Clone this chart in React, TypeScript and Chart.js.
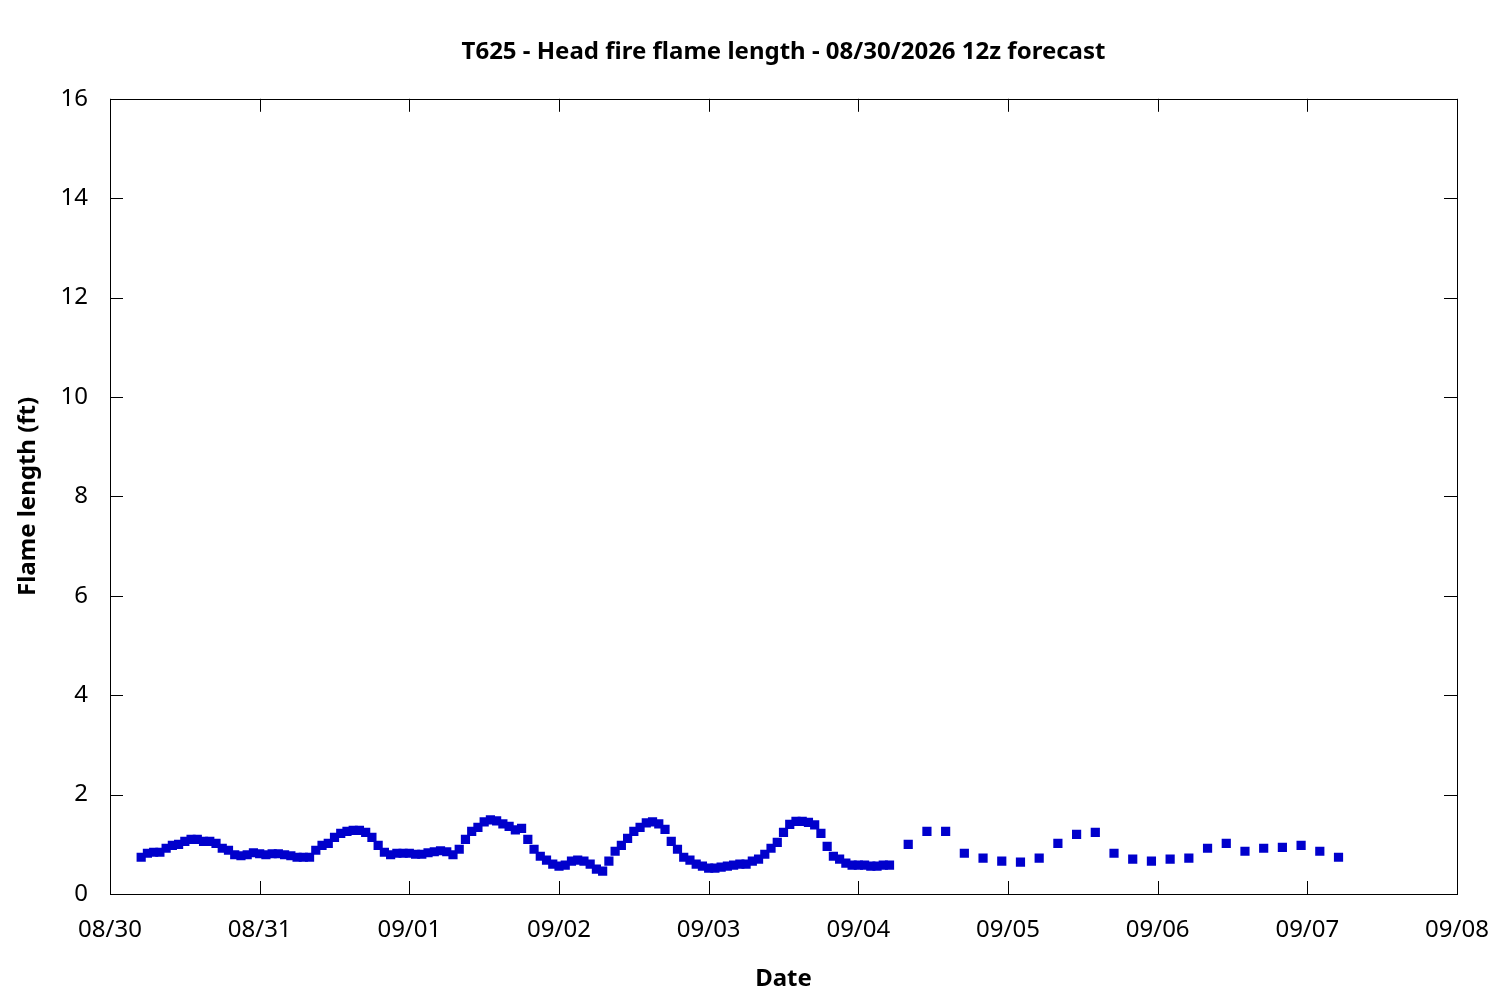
import { useEffect, useRef } from "react";
import { Chart, registerables } from "chart.js";

Chart.register(...registerables);

// Day tick labels, one per 24 h starting 08/30 00z
const dateLabels = ["08/30", "08/31", "09/01", "09/02", "09/03", "09/04", "09/05", "09/06", "09/07", "09/08"];
const yTicks = [0, 2, 4, 6, 8, 10, 12, 14, 16];

// Hourly forecast, 08/30 05z .. 09/04 05z (hours since 08/30 00z)
const hourlyStartHour = 5;
const hourlyFlameLength = [
  0.74, 0.82, 0.84, 0.84, 0.92, 0.98, 1.0, 1.06, 1.1, 1.1, 1.06, 1.06, 1.02, 0.92, 0.88, 0.79, 0.77, 0.79, 0.83,
  0.81, 0.79, 0.81, 0.81, 0.79, 0.77, 0.74, 0.74, 0.74, 0.88, 0.98, 1.02, 1.14, 1.22, 1.26, 1.28, 1.28, 1.24, 1.14,
  0.98, 0.84, 0.79, 0.82, 0.82, 0.82, 0.8, 0.8, 0.83, 0.85, 0.87, 0.85, 0.79, 0.9, 1.1, 1.26, 1.34, 1.45, 1.49,
  1.47, 1.41, 1.36, 1.29, 1.32, 1.1, 0.9, 0.76, 0.68, 0.6, 0.56, 0.58, 0.66, 0.68, 0.66, 0.6, 0.5, 0.46, 0.66,
  0.86, 0.98, 1.12, 1.26, 1.34, 1.43, 1.45, 1.41, 1.3, 1.06, 0.9, 0.74, 0.68, 0.6, 0.56, 0.52, 0.52, 0.54, 0.56,
  0.58, 0.6, 0.6, 0.66, 0.7, 0.8, 0.92, 1.04, 1.24, 1.4, 1.46, 1.46, 1.44, 1.39, 1.22, 0.96, 0.76, 0.7, 0.62,
  0.58, 0.58, 0.58, 0.56, 0.56, 0.58, 0.58,
];

// 3-hourly forecast, 09/04 08z .. 09/07 05z
const threeHourlyStartHour = 128;
const threeHourlyFlameLength = [
  1.0, 1.26, 1.26, 0.82, 0.72, 0.66, 0.64, 0.72, 1.02, 1.2, 1.24, 0.82, 0.7, 0.66, 0.7, 0.72, 0.92, 1.02, 0.86,
  0.92, 0.94, 0.98, 0.86, 0.74,
];

const FONT = "'Noto Sans', 'Open Sans', sans-serif";
const FONT_SIZE = 24;

// gnuplot-style frame with inward ticks on all four sides
const framePlugin = {
  id: "frame",
  afterDatasetsDraw(chart: any) {
    const { ctx, chartArea, scales } = chart;
    const { left, right, top, bottom } = chartArea;
    const tick = 13;
    ctx.save();
    ctx.strokeStyle = "#000";
    ctx.lineWidth = 1;
    ctx.beginPath();
    scales.x.ticks.forEach((t: any) => {
      const px = Math.round(scales.x.getPixelForValue(t.value)) + 0.5;
      ctx.moveTo(px, bottom);
      ctx.lineTo(px, bottom - tick);
      ctx.moveTo(px, top);
      ctx.lineTo(px, top + tick);
    });
    scales.y.ticks.forEach((t: any) => {
      const py = Math.round(scales.y.getPixelForValue(t.value)) + 0.5;
      ctx.moveTo(left, py);
      ctx.lineTo(left + tick, py);
      ctx.moveTo(right, py);
      ctx.lineTo(right - tick, py);
    });
    ctx.stroke();
    ctx.strokeRect(Math.round(left) + 0.5, Math.round(top) + 0.5, Math.round(right - left), Math.round(bottom - top));
    ctx.restore();
  },
};

export default function App() {
  const canvasRef = useRef<HTMLCanvasElement>(null);
  const chartInstance = useRef<Chart | null>(null);

  useEffect(() => {
    if (!canvasRef.current) return;
    if (chartInstance.current) chartInstance.current.destroy();

    const points = [
      ...hourlyFlameLength.map((v, i) => ({ x: hourlyStartHour + i, y: v })),
      ...threeHourlyFlameLength.map((v, i) => ({ x: threeHourlyStartHour + i * 3, y: v })),
    ];

    chartInstance.current = new Chart(canvasRef.current, {
      type: "scatter",
      data: {
        datasets: [
          {
            label: "Flame length",
            data: points,
            pointStyle: "rect",
            pointRadius: 6.5,
            pointBorderWidth: 0,
            backgroundColor: "#0000cc",
            borderColor: "#0000cc",
          },
        ],
      },
      plugins: [framePlugin],
      options: {
        animation: false,
        responsive: true,
        maintainAspectRatio: false,
        devicePixelRatio: 1,
        layout: { padding: { left: 0, right: 43, top: 0, bottom: 0 } },
        plugins: {
          legend: { display: false },
          tooltip: { enabled: false },
          title: {
            display: true,
            fullSize: false,
            text: "T625 - Head fire flame length - 08/30/2026 12z forecast",
            color: "#000",
            font: { family: FONT, size: FONT_SIZE, weight: "bold" },
            padding: { top: 38, bottom: 32 },
          },
        },
        scales: {
          x: {
            type: "linear",
            min: 0,
            max: (dateLabels.length - 1) * 24,
            grid: { display: false },
            border: { display: false },
            ticks: {
              stepSize: 24,
              color: "#000",
              padding: 14,
              maxRotation: 0,
              autoSkip: false,
              font: { family: FONT, size: FONT_SIZE },
              callback: (v: any) => dateLabels[Math.round(Number(v) / 24)],
            },
            title: {
              display: true,
              text: "Date",
              color: "#000",
              font: { family: FONT, size: FONT_SIZE, weight: "bold" },
              padding: { top: 0, bottom: 6 },
            },
            afterFit: (scale: any) => {
              scale.height = 106;
              scale.paddingLeft = 0;
              scale.paddingRight = 0;
            },
          },
          y: {
            min: 0,
            max: 16,
            grid: { display: false },
            border: { display: false },
            afterBuildTicks: (scale: any) => {
              scale.ticks = yTicks.map((v) => ({ value: v }));
            },
            ticks: {
              color: "#000",
              padding: 14,
              font: { family: FONT, size: FONT_SIZE },
            },
            title: {
              display: true,
              text: "Flame length (ft)",
              color: "#000",
              font: { family: FONT, size: FONT_SIZE, weight: "bold" },
              padding: { top: 14, bottom: 0 },
            },
            afterFit: (scale: any) => {
              scale.width = 110;
            },
          },
        },
      },
    });

    return () => {
      if (chartInstance.current) {
        chartInstance.current.destroy();
        chartInstance.current = null;
      }
    };
  }, []);

  return (
    <div style={{ position: "absolute", left: 0, top: 0, width: 1500, height: 1000, background: "#fff" }}>
      <canvas ref={canvasRef} />
    </div>
  );
}
